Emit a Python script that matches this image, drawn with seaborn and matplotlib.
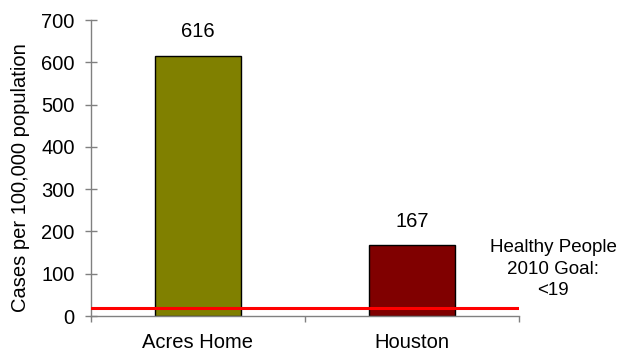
import matplotlib
matplotlib.use("Agg")
import matplotlib.pyplot as plt
import seaborn as sns
import pandas as pd

# Case rates per 100,000 population
areas = ["Acres Home", "Houston"]
rates = [616, 167]
bar_colors = ["#808000", "#800000"]
goal_value = 19
goal_label = "Healthy People\n2010 Goal:\n<19"
y_ticks = [0, 100, 200, 300, 400, 500, 600, 700]

sns.set_style("white")
plt.rcParams["font.family"] = ["Liberation Sans", "DejaVu Sans"]
plt.rcParams["text.color"] = "black"
plt.rcParams["axes.labelcolor"] = "black"
FS = 14.5

df = pd.DataFrame({"area": areas, "rate": rates})

fig = plt.figure(figsize=(6.21, 3.54), dpi=100)
ax = fig.add_axes([91 / 621, 1 - 316 / 354, (519 - 91) / 621, (316 - 20) / 354])

sns.barplot(data=df, x="area", y="rate", hue="area", palette=bar_colors,
            width=0.40, edgecolor="black", linewidth=1.0, saturation=1,
            legend=False, ax=ax)

for patch, val in zip(ax.patches, rates):
    cx = patch.get_x() + patch.get_width() / 2
    ax.annotate(f"{val}", (cx, val), xytext=(0, 17), textcoords="offset points",
                ha="center", va="center", fontsize=FS, color="black")

# Goal line
ax.axhline(goal_value, color="#ff0000", linewidth=2.2, zorder=5)
fig.text(553 / 621, 1 - 269 / 354, goal_label, ha="center", va="center",
         fontsize=13.5, linespacing=1.32, color="black")

ax.set_xlim(-0.5, 1.5)
ax.set_ylim(0, 700)
ax.set_yticks(y_ticks)
ax.set_ylabel("Cases per 100,000 population", fontsize=FS, labelpad=8)
ax.yaxis.label.set_y((316 - 177.5) / 296)
ax.set_xlabel("")

ax.set_xticks([0, 1])
ax.set_xticklabels(areas, fontsize=FS)
ax.set_xticks([-0.5, 0.5, 1.5], minor=True)
ax.tick_params(axis="x", which="major", length=0, pad=12.5, labelcolor="black")
ax.tick_params(axis="x", which="minor", length=4.5, direction="out",
               color="#808080", width=1, bottom=True)
ax.tick_params(axis="y", which="major", length=8.5, direction="inout",
               color="#808080", width=1, labelsize=FS, left=True, pad=7.5,
               labelcolor="black")

for side in ["top", "right"]:
    ax.spines[side].set_visible(False)
for side in ["left", "bottom"]:
    ax.spines[side].set_color("#808080")
    ax.spines[side].set_linewidth(1)

fig.savefig("out.png", dpi=100)
